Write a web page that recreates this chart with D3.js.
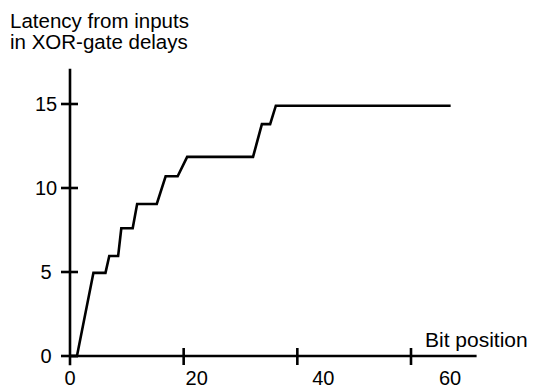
<!DOCTYPE html>
<html>
<head>
<meta charset="utf-8">
<script src="https://cdn.jsdelivr.net/npm/d3@7"></script>
<style>
  html, body { margin: 0; padding: 0; background: #fff; }
  svg { display: block; }
  text { font-family: "Liberation Sans", Arial, Helvetica, sans-serif; fill: #000; }
</style>
</head>
<body>
<script>
// Data
const bitPosition = [0, 1.1, 3.7, 5.6, 6.2, 7.6, 8.1, 9.9, 10.6, 13.7, 15.1, 17.0, 18.5, 28.9, 30.3, 31.6, 32.5, 60.1];
const latency     = [0, 0,   4.95, 4.95, 5.95, 5.95, 7.6, 7.6, 9.05, 9.05, 10.7, 10.7, 11.85, 11.85, 13.8, 13.8, 14.9, 14.9];
const xTickValues = [20, 40, 60];
const xLabelValues = [0, 20, 40, 60];
const yTickValues = [0, 5, 10, 15];
const titleLines = ["Latency from inputs", "in XOR-gate delays"];
const xTitle = "Bit position";

const W = 534, H = 386;
const svg = d3.select("body").append("svg").attr("width", W).attr("height", H);

// scales
const x = d3.scaleLinear().domain([0, 60]).range([70, 450]);      // data + labels
const xt = d3.scaleLinear().domain([0, 60]).range([70, 411]);     // tick marks as drawn
const y = d3.scaleLinear().domain([0, 15]).range([356, 104]);

const g = svg.append("g");
const sw = 2.6;

// y axis line
g.append("line")
  .attr("x1", x(0)).attr("x2", x(0))
  .attr("y1", y(17.1)).attr("y2", y(-0.55))
  .attr("stroke", "#000").attr("stroke-width", sw);
// x axis line
g.append("line")
  .attr("x1", x(0)).attr("x2", x(64.2))
  .attr("y1", y(0)).attr("y2", y(0))
  .attr("stroke", "#000").attr("stroke-width", sw);

// y ticks (crossing)
g.selectAll(".yt").data(yTickValues).enter().append("line")
  .attr("x1", x(0) - 9).attr("x2", x(0) + 8)
  .attr("y1", d => y(d)).attr("y2", d => y(d))
  .attr("stroke", "#000").attr("stroke-width", sw);
g.selectAll(".yl").data(yTickValues).enter().append("text")
  .attr("x", 46).attr("y", d => y(d) + 7)
  .attr("text-anchor", "middle").attr("font-size", "20px")
  .text(d => d);

// x ticks (crossing)
g.selectAll(".xt").data(xTickValues).enter().append("line")
  .attr("x1", d => xt(d)).attr("x2", d => xt(d))
  .attr("y1", y(0) - 8).attr("y2", y(0) + 9)
  .attr("stroke", "#000").attr("stroke-width", sw);
g.selectAll(".xl").data(xLabelValues).enter().append("text")
  .attr("x", d => x(d)).attr("y", 385)
  .attr("text-anchor", "middle").attr("font-size", "20px")
  .text(d => d);

// data line
const pts = bitPosition.map((b, i) => [b, latency[i]]);
g.append("path")
  .datum(pts)
  .attr("fill", "none").attr("stroke", "#000").attr("stroke-width", sw)
  .attr("stroke-linejoin", "miter")
  .attr("d", d3.line().x(d => x(d[0])).y(d => y(d[1])));

// titles
svg.selectAll(".title").data(titleLines).enter().append("text")
  .attr("x", 10).attr("y", (d, i) => 28 + i * 21)
  .attr("font-size", "20.5px")
  .text(d => d);
svg.append("text")
  .attr("x", 425).attr("y", 347)
  .attr("font-size", "21px")
  .text(xTitle);
</script>
</body>
</html>
